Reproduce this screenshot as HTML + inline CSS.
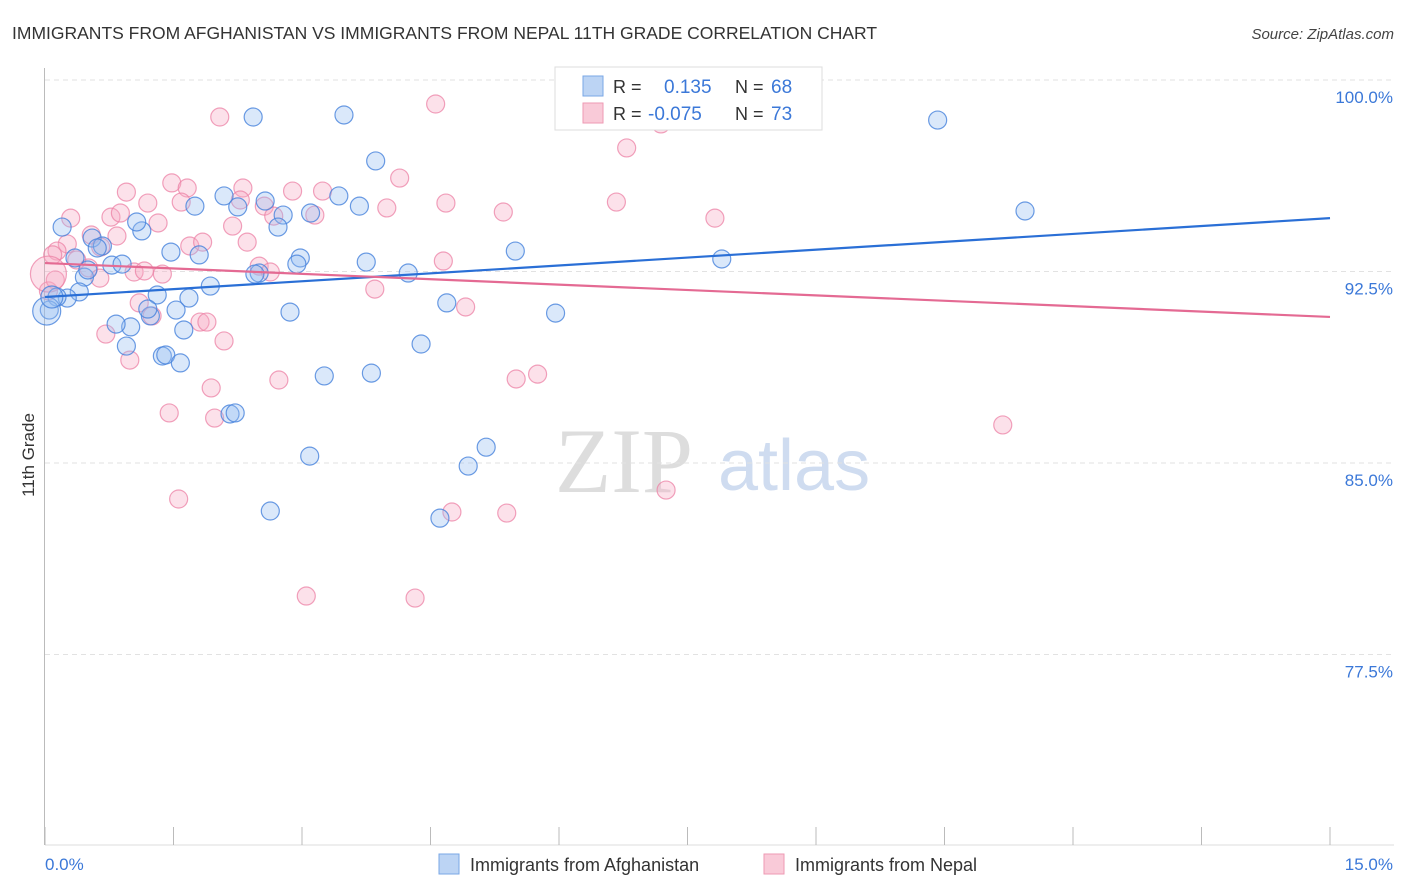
<!DOCTYPE html>
<html><head><meta charset="utf-8">
<style>
body{margin:0;background:#fff;font-family:"Liberation Sans",sans-serif;}
svg{display:block}
</style></head>
<body>
<svg id="chart" width="1406" height="892">
<text x="12" y="39" font-size="17.5" fill="#333">IMMIGRANTS FROM AFGHANISTAN VS IMMIGRANTS FROM NEPAL 11TH GRADE CORRELATION CHART</text>
<text x="1394" y="39" font-size="15" fill="#444" font-style="italic" text-anchor="end">Source: ZipAtlas.com</text>
<text x="34" y="455" font-size="17" fill="#333" transform="rotate(-90 34 455)" text-anchor="middle">11th Grade</text>
<g>
<text x="555" y="492" font-size="92" fill="#ddd" font-family="Liberation Serif,serif">ZIP</text>
<text x="718" y="490" font-size="72" fill="#cfdcf0">atlas</text>
</g>
<g id="grid"></g><g id="pts"></g><g id="lines"></g>
<g>
<rect x="555" y="67" width="267" height="63" fill="#fff" stroke="#ddd"/>
<rect x="583" y="76" width="20" height="20" fill="#bcd4f4" stroke="#7aa7e6"/>
<rect x="583" y="103" width="20" height="20" fill="#f9cad8" stroke="#ee9ab3"/>
<text x="613" y="93" font-size="18" fill="#333">R = </text><text x="664" y="93" font-size="19" fill="#3b78d8">0.135</text>
<text x="735" y="93" font-size="18" fill="#333">N = </text><text x="771" y="93" font-size="19" fill="#3b78d8">68</text>
<text x="613" y="120" font-size="18" fill="#333">R = </text><text x="648" y="120" font-size="19" fill="#3b78d8">-0.075</text>
<text x="735" y="120" font-size="18" fill="#333">N = </text><text x="771" y="120" font-size="19" fill="#3b78d8">73</text>
</g>
<g>
<rect x="439" y="854" width="20" height="20" fill="#bcd4f4" stroke="#7aa7e6"/>
<text x="470" y="871" font-size="18" fill="#333">Immigrants from Afghanistan</text>
<rect x="764" y="854" width="20" height="20" fill="#f9cad8" stroke="#ee9ab3"/>
<text x="795" y="871" font-size="18" fill="#333">Immigrants from Nepal</text>
</g>
</svg>
<script>
const yTicks=[100,92.5,85,77.5];
const yTickLabels=["100.0%","92.5%","85.0%","77.5%"];
const xTickLabels=["0.0%","15.0%"];
const blueX=[2.43,3.49,3.86,2.09,2.57,3.43,3.67,2.25,1.75,2.78,3.10,2.72,0.20,0.55,1.13,1.07,0.67,0.61,1.47,1.80,2.98,2.94,3.75,4.24,2.50,2.45,0.35,0.46,0.78,0.90,0.50,1.31,1.68,1.93,0.40,0.26,0.14,0.05,2.86,1.53,1.23,1.20,1.00,0.83,1.62,4.69,5.96,4.39,0.95,1.37,1.41,1.58,3.26,3.81,2.16,2.22,3.09,5.15,4.94,2.63,4.61,5.49,7.90,6.86,10.42,11.44,0.02,0.08];
const blueY=[98.55,98.63,96.83,95.46,95.26,95.46,95.06,95.03,95.06,94.71,94.79,94.24,94.24,93.81,94.09,94.44,93.50,93.42,93.26,93.15,93.03,92.79,92.87,92.44,92.44,92.40,93.03,92.28,92.75,92.79,92.56,91.58,91.46,91.93,91.70,91.46,91.50,90.99,90.91,90.99,90.76,91.03,90.33,90.44,90.21,91.27,90.87,89.66,89.58,89.19,89.23,88.92,88.41,88.52,86.92,86.96,85.27,85.62,84.88,83.12,82.84,93.30,92.99,100.0,98.43,94.87,90.95,91.5];
const blueR=[9,9,9,9,9,9,9,9,9,9,9,9,9,9,9,9,9,9,9,9,9,9,9,9,9,9,9,9,9,9,9,9,9,9,9,9,9,9,9,9,9,9,9,9,9,9,9,9,9,9,9,9,9,9,9,9,9,9,9,9,9,9,9,9,9,9,14,11];
const pinkX=[2.04,4.56,6.21,6.79,7.19,4.14,0.95,1.48,1.66,2.31,2.89,3.24,1.20,1.59,2.28,2.56,0.30,0.77,0.88,1.32,2.19,4.68,3.99,3.15,2.67,5.35,6.67,7.82,0.54,0.84,0.26,0.14,0.65,1.69,1.84,2.36,0.09,0.37,0.51,0.64,1.04,1.16,1.37,2.50,2.63,4.65,3.85,1.10,1.25,1.81,1.89,2.09,0.71,0.99,4.91,0.04,0.12,2.73,1.94,1.45,1.98,5.50,5.75,11.18,1.56,4.75,5.39,7.25,3.05,4.32,0.04];
const pinkY=[98.55,99.06,98.82,97.34,98.28,96.16,95.61,95.97,95.77,95.77,95.65,95.65,95.18,95.22,95.30,95.06,94.59,94.63,94.79,94.40,94.28,95.18,94.99,94.71,94.67,94.83,95.22,94.59,93.93,93.89,93.58,93.30,93.46,93.50,93.65,93.65,93.15,92.95,92.64,92.24,92.48,92.52,92.40,92.71,92.48,92.91,91.81,91.27,90.76,90.52,90.52,89.78,90.05,89.03,91.11,91.74,92.17,88.25,87.94,86.96,86.76,88.29,88.48,86.49,83.59,83.08,83.04,83.94,79.79,79.71,92.4];
const blueTrend=[91.50,94.59];
const pinkTrend=[92.83,90.72];
const X0=45,X1=1330,XMAX=15;
function sx(v){return X0+(v/XMAX)*(X1-X0);}
function sy(v){return 80+(100-v)/7.5*191.5;}
const NS="http://www.w3.org/2000/svg";
function mk(t,a,p){const e=document.createElementNS(NS,t);for(const k in a)e.setAttribute(k,a[k]);p.appendChild(e);return e;}
const grid=document.getElementById('grid');
yTicks.forEach((t,i)=>{
  const l=mk('line',{x1:45,x2:1394,y1:sy(t),y2:sy(t),stroke:'#e2e2e2','stroke-dasharray':'5,4'},grid);
  
  
  const tx=mk('text',{x:1393,y:sy(t)+23,'font-size':17,fill:'#3b78d8','text-anchor':'end'},grid);
  tx.textContent=yTickLabels[i];
  
  
});
const ax=mk('line',{x1:44.5,x2:44.5,y1:68,y2:845,stroke:'#bbb'},grid);


const bx=mk('line',{x1:45,x2:1394,y1:845,y2:845,stroke:'#ddd'},grid);


for(let i=0;i<=10;i++){
  const tk=mk('line',{x1:sx(i*1.5),x2:sx(i*1.5),y1:827,y2:845,stroke:'#bbb'},grid);
  
  
}
const xl0=mk('text',{x:45,y:870,'font-size':17,fill:'#3b78d8'},grid);xl0.textContent=xTickLabels[0];


const xl1=mk('text',{x:1393,y:870,'font-size':17,fill:'#3b78d8','text-anchor':'end'},grid);xl1.textContent=xTickLabels[1];


const pts=document.getElementById('pts');
pinkX.forEach((x,i)=>{
  const c=mk('circle',{cx:sx(x),cy:sy(pinkY[i]),r:i==pinkX.length-1?18:9,fill:'rgba(246,170,195,0.35)',stroke:'rgba(236,130,165,0.75)','stroke-width':1.2},pts);
  
  
});
blueX.forEach((x,i)=>{
  const c=mk('circle',{cx:sx(x),cy:sy(blueY[i]),r:blueR[i],fill:'rgba(150,190,240,0.35)',stroke:'rgba(70,130,220,0.8)','stroke-width':1.2},pts);
  
  
});
const lines=document.getElementById('lines');
const bl=mk('line',{x1:sx(0),y1:sy(blueTrend[0]),x2:sx(XMAX),y2:sy(blueTrend[1]),stroke:'#2a6fd6','stroke-width':2.2},lines);


const pl=mk('line',{x1:sx(0),y1:sy(pinkTrend[0]),x2:sx(XMAX),y2:sy(pinkTrend[1]),stroke:'#e46a93','stroke-width':2.2},lines);


</script>
</body></html>
